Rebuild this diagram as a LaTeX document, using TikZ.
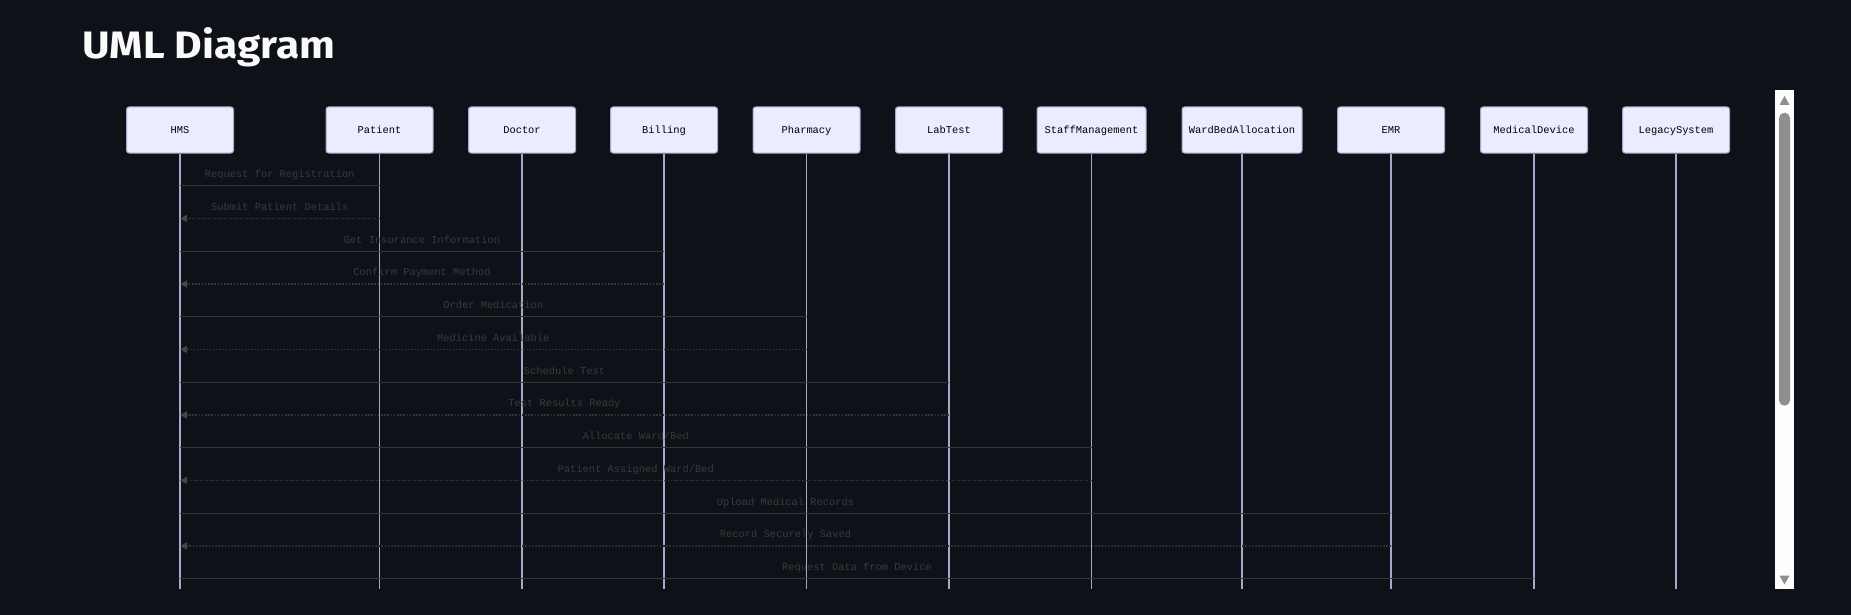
\documentclass[tikz,border=0pt]{standalone}
\usepackage{fontspec}
\setmainfont{Fira Sans}
\newfontfamily\monofnt{Liberation Mono}
\usetikzlibrary{arrows.meta}
\definecolor{bg}{HTML}{0E1117}
\definecolor{titlec}{HTML}{FAFAFA}
\definecolor{actorfill}{HTML}{ECECFF}
\definecolor{actorborder}{HTML}{A9A2C9}
\definecolor{lifeline}{HTML}{ADA6CC}
\definecolor{msgline}{HTML}{353535}
\definecolor{msgtext}{HTML}{3A3A3A}
\definecolor{arrowc}{HTML}{444444}
\definecolor{scrollc}{HTML}{8F8F8F}
\definecolor{scrollbg}{HTML}{FDFDFD}
\newcommand\umlmsgsolid[3]{%
  \draw[msg] (HMS |- #1) -- (#2 |- #1) node[lbl, midway, yshift=11.5pt] {#3};}
\newcommand\umlmsgreply[3]{%
  \draw[reply] (#2 |- #1) -- (HMS |- #1) node[lbl, midway, yshift=11.5pt] {#3};}
\begin{document}
\begin{tikzpicture}[x=1pt,y=-1pt,
  actor/.style={draw=actorborder, fill=actorfill, rounded corners=2.5pt, line width=1pt,
    minimum height=46pt, minimum width=107pt, inner sep=0pt, text height=9pt, text depth=2pt,
    font=\monofnt\fontsize{10.4}{12}\selectfont, text=black},
  life/.style={draw=lifeline, line width=1.2pt},
  msg/.style={draw=msgline, line width=1.2pt},
  reply/.style={draw=msgline, line width=1.2pt, dash pattern=on 1.6pt off 1.6pt,
    -{Triangle[length=7pt,width=7pt,color=arrowc]}},
  lbl/.style={font=\monofnt\fontsize{10.4}{12}\selectfont, text=msgtext, inner sep=0pt,
    text height=9pt, text depth=2pt}]
\fill[bg] (0,0) rectangle (1851,615);
\useasboundingbox (0,0) rectangle (1851,615);
% title
\node[anchor=base west, inner sep=0pt, text=titlec] (title) at (82,59)
  {\resizebox{253pt}{31pt}{\bfseries UML Diagram}};
% actors
\node[actor] (HMS) at (180,130) {HMS};
\node[actor] (Patient) at (379.5,130) {Patient};
\node[actor] (Doctor) at (522,130) {Doctor};
\node[actor] (Billing) at (664,130) {Billing};
\node[actor] (Pharmacy) at (806.5,130) {Pharmacy};
\node[actor] (LabTest) at (949,130) {LabTest};
\node[actor, minimum width=109pt] (Staff) at (1091.5,130) {StaffManagement};
\node[actor, minimum width=120pt] (Ward) at (1242,130) {WardBedAllocation};
\node[actor] (EMR) at (1391,130) {EMR};
\node[actor] (MedDev) at (1534,130) {MedicalDevice};
\node[actor] (Legacy) at (1676,130) {LegacySystem};
\coordinate (bottom) at (0,589);
% rows
\coordinate (r1) at (0,185.7);
\coordinate (r2) at (0,218.45);
\coordinate (r3) at (0,251.2);
\coordinate (r4) at (0,283.95);
\coordinate (r5) at (0,316.7);
\coordinate (r6) at (0,349.45);
\coordinate (r7) at (0,382.2);
\coordinate (r8) at (0,414.95);
\coordinate (r9) at (0,447.7);
\coordinate (r10) at (0,480.45);
\coordinate (r11) at (0,513.2);
\coordinate (r12) at (0,545.95);
\coordinate (r13) at (0,578.7);
% lifelines
\foreach \a in {HMS,Patient,Doctor,Billing,Pharmacy,LabTest,Staff,Ward,EMR,MedDev,Legacy}
  \draw[life] (\a.south) -- (\a.south |- bottom);
% messages
\umlmsgsolid{r1}{Patient}{Request for Registration}
\umlmsgreply{r2}{Patient}{Submit Patient Details}
\umlmsgsolid{r3}{Billing}{Get Insurance Information}
\umlmsgreply{r4}{Billing}{Confirm Payment Method}
\umlmsgsolid{r5}{Pharmacy}{Order Medication}
\umlmsgreply{r6}{Pharmacy}{Medicine Available}
\umlmsgsolid{r7}{LabTest}{Schedule Test}
\umlmsgreply{r8}{LabTest}{Test Results Ready}
\umlmsgsolid{r9}{Staff}{Allocate Ward/Bed}
\umlmsgreply{r10}{Staff}{Patient Assigned Ward/Bed}
\umlmsgsolid{r11}{EMR}{Upload Medical Records}
\umlmsgreply{r12}{EMR}{Record Securely Saved}
\umlmsgsolid{r13}{MedDev}{Request Data from Device}
% scrollbar
\fill[scrollbg] (1775,90) rectangle (1794,589);
\fill[scrollc, rounded corners=5.4pt] (1779,112.7) rectangle (1790,405.7);
\fill[scrollc] (1779.5,105) -- (1784.5,96) -- (1789.5,105) -- cycle;
\fill[scrollc] (1779.5,575.5) -- (1784.5,584.5) -- (1789.5,575.5) -- cycle;
\end{tikzpicture}
\end{document}
